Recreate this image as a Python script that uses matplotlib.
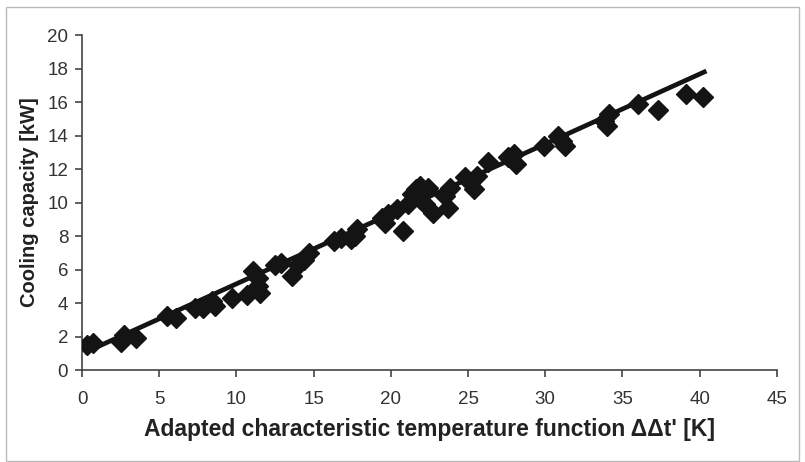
import matplotlib
matplotlib.use("Agg")
import matplotlib.pyplot as plt
from matplotlib.patches import Rectangle

plt.rcParams['font.family'] = ['Liberation Sans', 'DejaVu Sans']

# Measured data points
x_meas = [0.3, 0.7, 2.5, 2.7, 3.5, 5.5, 6.1, 7.3, 7.8, 8.4, 8.6, 9.7,
          10.7, 11.1, 11.4, 11.5, 11.4, 12.5, 12.9, 13.6, 14.0, 14.4, 14.7,
          16.3, 16.8, 17.4, 17.7, 17.8, 19.4, 19.8, 19.6,
          20.4, 20.8, 21.1, 21.4, 21.6, 21.9, 22.2, 21.9, 22.4,
          22.7, 23.5, 23.7, 23.8, 24.8, 25.1, 25.4, 25.6, 26.3,
          27.6, 28.0, 28.1, 29.9, 30.8, 31.1, 31.3, 33.8, 34.1, 34.0,
          36.0, 37.3, 39.1, 40.2]
y_meas = [1.5, 1.6, 1.7, 2.1, 1.9, 3.2, 3.1, 3.7, 3.7, 4.1, 3.8, 4.3,
          4.5, 5.9, 5.0, 4.6, 5.5, 6.3, 6.4, 5.6, 6.3, 6.6, 7.0,
          7.7, 7.9, 7.8, 8.0, 8.4, 9.1, 9.3, 8.8,
          9.6, 8.3, 9.9, 10.5, 10.8, 11.0, 9.9, 10.2, 10.9,
          9.4, 10.4, 9.7, 10.9, 11.5, 11.2, 10.8, 11.6, 12.4,
          12.7, 12.9, 12.3, 13.4, 14.0, 13.7, 13.4, 14.9, 15.3, 14.6,
          15.9, 15.5, 16.5, 16.3]

# Fitted line
x_fit = [0.3, 20.3, 40.3]
y_fit = [1.1, 9.45, 17.8]

x_ticks = [0, 5, 10, 15, 20, 25, 30, 35, 40, 45]
y_ticks = [0, 2, 4, 6, 8, 10, 12, 14, 16, 18, 20]

fig = plt.figure(figsize=(8.05, 4.62), dpi=100)
ax = fig.add_axes([0.102, 0.199, 0.863, 0.725])

ax.plot(x_meas, y_meas, linestyle='none', marker='D', markersize=10,
        color='#141414', zorder=3)
ax.plot(x_fit, y_fit, color='#141414', linewidth=3.4, zorder=2)

ax.set_xlim(0, 45)
ax.set_ylim(0, 20)
ax.set_xticks(x_ticks)
ax.set_yticks(y_ticks)
for s in ['top', 'right']:
    ax.spines[s].set_visible(False)
for s in ['left', 'bottom']:
    ax.spines[s].set_color('#444444')
    ax.spines[s].set_linewidth(1.2)
ax.tick_params(direction='out', length=5, width=1.2, colors='#444444',
               labelsize=13.5, labelcolor='#333333')
ax.tick_params(axis='x', pad=10)
ax.tick_params(axis='y', pad=5)

ax.set_xlabel("Adapted characteristic temperature function \u0394\u0394t' [K]",
              fontsize=16.5, fontweight='bold', color='#222222', labelpad=7)
ax.set_ylabel("Cooling capacity [kW]", fontsize=14.5, fontweight='bold',
              color='#222222', labelpad=6)

fig.patches.append(Rectangle((0.007, 0.003), 0.985, 0.982, transform=fig.transFigure,
                             fill=False, edgecolor='#bbbbbb', linewidth=1.0))

fig.savefig("out.png", dpi=100)
